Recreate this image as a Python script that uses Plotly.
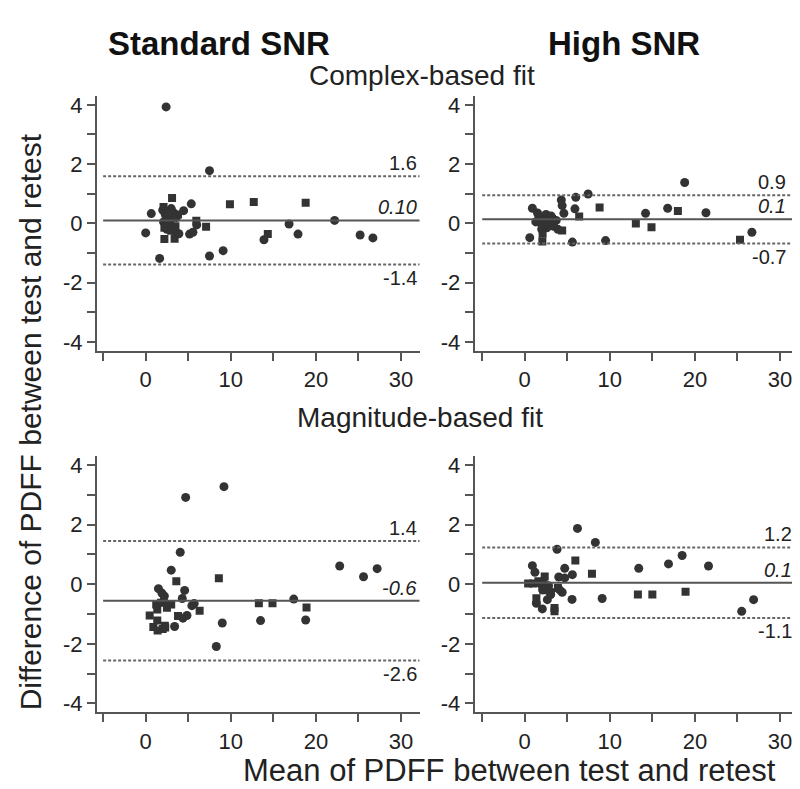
import plotly.graph_objects as go

# ---------------- data ----------------
# Top-left: Standard SNR, complex-based fit
tl_circ_x = [2.4, 7.5, 0.66, 0.0, 1.64, 4.46, 5.36, 5.16, 5.55, 6.0, 7.5, 9.1, 13.9, 16.85, 17.9, 22.2, 25.2, 26.7,
             2.0, 2.3, 2.6, 2.1, 2.8, 3.3, 3.6, 3.9, 2.5, 3.0, 3.6]
tl_circ_y = [3.93, 1.78, 0.33, -0.32, -1.18, 0.43, 0.66, -0.36, -0.30, -0.05, -1.10, -0.92, -0.55, -0.02, -0.36, 0.10, -0.39, -0.49,
             0.45, 0.30, 0.15, 0.05, -0.05, 0.35, 0.20, -0.35, -0.20, 0.50, -0.36]
tl_sq_x = [3.1, 2.2, 3.4, 5.95, 7.1, 9.9, 12.7, 14.35, 18.8, 2.1, 2.4, 2.7, 2.2, 3.0, 3.5, 2.9, 3.8]
tl_sq_y = [0.86, -0.53, -0.52, 0.09, -0.11, 0.65, 0.72, -0.36, 0.70, 0.55, 0.20, 0.40, -0.15, -0.25, -0.10, 0.05, 0.30]

# Top-right: High SNR, complex-based fit
tr_circ_x = [0.9, 0.59, 4.3, 4.4, 4.6, 6.0, 5.9, 5.6, 7.45, 9.5, 14.2, 16.8, 18.8, 21.3, 26.7,
             1.5, 1.9, 2.2, 2.5, 2.8, 3.1, 3.4, 3.7, 2.0, 2.6, 3.9, 1.3]
tr_circ_y = [0.51, -0.48, 0.79, 0.60, 0.34, 0.88, 0.49, -0.63, 0.99, -0.58, 0.34, 0.51, 1.38, 0.36, -0.30,
             0.35, 0.20, 0.10, 0.30, 0.05, 0.25, -0.10, 0.10, -0.20, -0.15, -0.20, 0.05]
tr_sq_x = [2.07, 4.4, 6.4, 8.8, 13.06, 14.9, 18.0, 25.3, 1.6, 2.1, 2.4, 2.9, 3.2, 2.0]
tr_sq_y = [-0.61, -0.24, 0.23, 0.54, 0.0, -0.13, 0.42, -0.55, 0.10, -0.35, 0.15, -0.05, 0.15, -0.05]

# Bottom-left: Standard SNR, magnitude-based fit
bl_circ_x = [4.7, 9.2, 4.06, 3.0, 4.58, 1.5, 1.9, 2.2, 4.3, 2.1, 2.5, 5.43, 5.7, 3.4, 4.38, 4.85, 9.0, 8.3,
             13.5, 17.4, 18.8, 22.8, 25.6, 27.2]
bl_circ_y = [2.91, 3.27, 1.07, 0.47, -0.21, -0.15, -0.30, -0.40, -0.48, -0.56, -0.67, -0.72, -0.65, -1.42, -1.14, -1.05, -1.30, -2.09,
             -1.22, -0.50, -1.20, 0.61, 0.25, 0.52]
bl_sq_x = [3.6, 8.6, 1.24, 1.8, 2.5, 3.0, 1.36, 6.34, 0.47, 1.36, 0.9, 1.4, 2.0, 2.25, 2.3, 3.8, 13.3, 14.9, 18.9]
bl_sq_y = [0.10, 0.20, -0.68, -0.62, -0.79, -0.68, -0.85, -0.89, -1.05, -1.22, -1.44, -1.55, -1.50, -1.39, -1.45, -1.07, -0.64, -0.64, -0.78]

# Bottom-right: High SNR, magnitude-based fit
br_circ_x = [6.2, 8.3, 3.8, 0.9, 1.2, 4.7, 4.0, 4.7, 5.6, 1.9, 2.8, 2.1, 3.05, 4.1, 4.4, 1.37, 2.66, 3.05, 2.07, 5.56,
             9.1, 13.4, 16.9, 18.5, 21.6, 26.9, 25.5]
br_circ_y = [1.87, 1.40, 1.17, 0.62, 0.40, 0.53, 0.24, 0.21, 0.32, 0.0, -0.05, -0.19, -0.25, -0.19, -0.27, -0.64, -0.52, -0.35, -0.83, -0.51,
             -0.48, 0.53, 0.68, 0.96, 0.61, -0.52, -0.91]
br_sq_x = [5.95, 7.9, 2.35, 0.4, 1.0, 1.6, 2.2, 2.2, 3.9, 1.37, 3.5, 3.5, 13.3, 15.0, 18.9]
br_sq_y = [0.79, 0.35, 0.26, 0.02, 0.02, 0.10, 0.07, -0.20, -0.13, -0.47, -0.80, -0.91, -0.35, -0.35, -0.25]

# Bias and limits of agreement (mean, upper, lower) and their printed labels
tl_limits = [0.10, 1.59, -1.39]
tr_limits = [0.14, 0.95, -0.68]
bl_limits = [-0.56, 1.45, -2.56]
br_limits = [0.05, 1.23, -1.13]
tl_labels = ["0.10", "1.6", "-1.4"]
tr_labels = ["0.1", "0.9", "-0.7"]
bl_labels = ["-0.6", "1.4", "-2.6"]
br_labels = ["0.1", "1.2", "-1.1"]

x_tick_vals = [-5, 0, 5, 10, 15, 20, 25, 30]
x_tick_text = ["", "0", "", "10", "", "20", "", "30"]
y_tick_vals = [-4, -3, -2, -1, 0, 1, 2, 3, 4]
y_tick_text = ["-4", "", "-2", "", "0", "", "2", "", "4"]

col_titles = ["Standard SNR", "High SNR"]
row_titles = ["Complex-based fit", "Magnitude-based fit"]
x_title = "Mean of PDFF between test and retest"
y_title = "Difference of PDFF between test and retest"

# ---------------- figure ----------------
FONT = "Arial, 'Liberation Sans', Helvetica, sans-serif"
AX = "#555555"
PT = "#333333"

W, H = 800, 789
def fx(px):
    return px / W
def fy(py):
    return 1 - py / H

panels = [
    # (circ_x, circ_y, sq_x, sq_y, limits, labels, xaxis id, yaxis id, label_x)
    (tl_circ_x, tl_circ_y, tl_sq_x, tl_sq_y, tl_limits, tl_labels, "x", "y", 32.1),
    (tr_circ_x, tr_circ_y, tr_sq_x, tr_sq_y, tr_limits, tr_labels, "x2", "y2", 30.9),
    (bl_circ_x, bl_circ_y, bl_sq_x, bl_sq_y, bl_limits, bl_labels, "x3", "y3", 32.1),
    (br_circ_x, br_circ_y, br_sq_x, br_sq_y, br_limits, br_labels, "x4", "y4", 31.6),
]

fig = go.Figure()
shapes = []
annotations = []

for cx, cy, sx, sy, lim, lab, xa, ya, lx in panels:
    fig.add_trace(go.Scatter(x=cx, y=cy, mode="markers", xaxis=xa, yaxis=ya,
                             marker=dict(symbol="circle", size=9, color=PT), showlegend=False))
    fig.add_trace(go.Scatter(x=sx, y=sy, mode="markers", xaxis=xa, yaxis=ya,
                             marker=dict(symbol="square", size=8, color=PT), showlegend=False))
    mean, up, lo = lim
    shapes.append(dict(type="line", xref=xa, yref=ya, x0=-5, x1=32.2, y0=mean, y1=mean,
                       line=dict(color=AX, width=2)))
    for v in (up, lo):
        shapes.append(dict(type="line", xref=xa, yref=ya, x0=-5, x1=32.2, y0=v, y1=v,
                           line=dict(color="#666666", width=2, dash="3px,2px")))
    annotations.append(dict(xref=xa, yref=ya, x=lx, y=mean, text="<i>%s</i>" % lab[0], showarrow=False,
                            xanchor="right", yanchor="bottom",
                            font=dict(family=FONT, size=20, color="#222222")))
    annotations.append(dict(xref=xa, yref=ya, x=lx, y=up, text=lab[1], showarrow=False,
                            xanchor="right", yanchor="bottom",
                            font=dict(family=FONT, size=20, color="#222222")))
    annotations.append(dict(xref=xa, yref=ya, x=lx, y=lo, text=lab[2], showarrow=False,
                            xanchor="right", yanchor="top",
                            font=dict(family=FONT, size=20, color="#222222")))

ax_common = dict(showline=True, linecolor=AX, linewidth=2, showgrid=False, zeroline=False,
                 ticks="outside", ticklen=8, tickwidth=1.5, tickcolor=AX,
                 tickfont=dict(family=FONT, size=22, color="#222222"))

xdom_left = [fx(89), fx(411.7)]
xdom_right = [fx(466.7), fx(790.7)]
ydom_top = [fy(342.9), fy(85.7)]
ydom_bot = [fy(707.7), fy(448.9)]

layout = dict(
    width=W, height=H, margin=dict(l=0, r=0, t=0, b=0),
    paper_bgcolor="white", plot_bgcolor="white",
    font=dict(family=FONT, color="#222222"),
    shapes=shapes,
)
axes_spec = [("xaxis", "yaxis", xdom_left, ydom_top, "y", "x", [-5.72, 32.2]),
             ("xaxis2", "yaxis2", xdom_right, ydom_top, "y2", "x2", [-5.88, 32.2]),
             ("xaxis3", "yaxis3", xdom_left, ydom_bot, "y3", "x3", [-5.72, 32.2]),
             ("xaxis4", "yaxis4", xdom_right, ydom_bot, "y4", "x4", [-5.88, 32.2])]
for xk, yk, xd, yd, anc_y, anc_x, xr in axes_spec:
    layout[xk] = dict(ax_common, domain=xd, anchor=anc_y, range=xr,
                      tickmode="array", tickvals=x_tick_vals, ticktext=x_tick_text)
    layout[yk] = dict(ax_common, domain=yd, anchor=anc_x, range=[-4.3, 4.3],
                      tickmode="array", tickvals=y_tick_vals, ticktext=y_tick_text)

# titles
annotations += [
    dict(xref="paper", yref="paper", x=fx(211), y=fy(33), text="<b>%s</b>" % col_titles[0], showarrow=False,
         xanchor="center", yanchor="middle", font=dict(family=FONT, size=33, color="#111111")),
    dict(xref="paper", yref="paper", x=fx(616), y=fy(33), text="<b>%s</b>" % col_titles[1], showarrow=False,
         xanchor="center", yanchor="middle", font=dict(family=FONT, size=33, color="#111111")),
    dict(xref="paper", yref="paper", x=fx(414), y=fy(65), text=row_titles[0], showarrow=False,
         xanchor="center", yanchor="middle", font=dict(family=FONT, size=28, color="#222222")),
    dict(xref="paper", yref="paper", x=fx(412), y=fy(410), text=row_titles[1], showarrow=False,
         xanchor="center", yanchor="middle", font=dict(family=FONT, size=28, color="#222222")),
    dict(xref="paper", yref="paper", x=fx(502), y=fy(766), text=x_title, showarrow=False,
         xanchor="center", yanchor="middle", font=dict(family=FONT, size=31, color="#222222")),
    dict(xref="paper", yref="paper", x=fx(22), y=fy(415), text=y_title, showarrow=False, textangle=-90,
         xanchor="center", yanchor="middle", font=dict(family=FONT, size=30, color="#222222")),
]
layout["annotations"] = annotations

fig.update_layout(**layout)
fig.write_html("out.html")
